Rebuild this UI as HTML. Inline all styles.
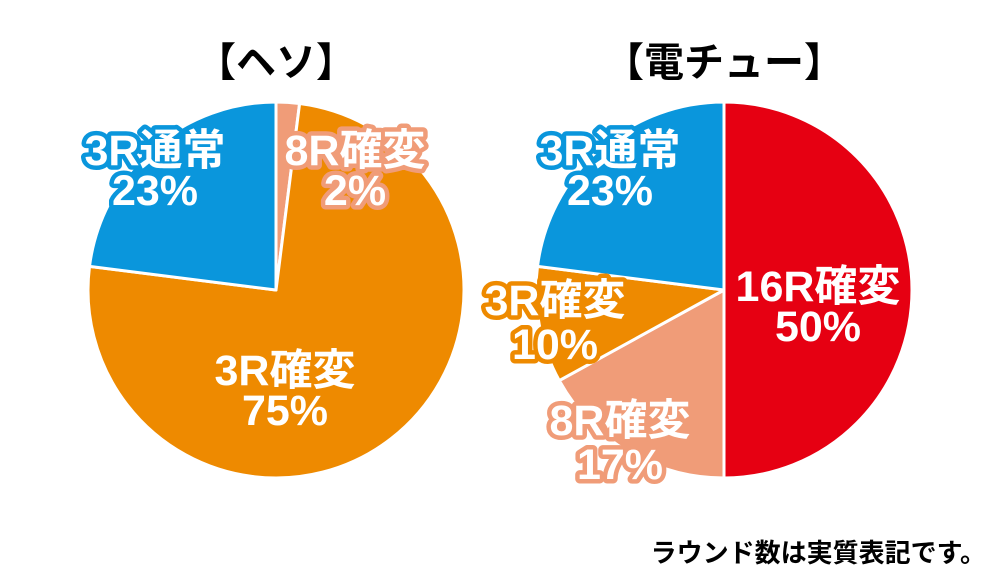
<!DOCTYPE html>
<html><head><meta charset="utf-8"><style>
html,body{margin:0;padding:0;background:#fff;}
svg{display:block;}
text{font-family:"Liberation Sans","Noto Sans CJK JP",sans-serif;font-weight:bold;}
.l{fill:#fff;stroke-width:9;paint-order:stroke;stroke-linejoin:round;font-size:43px;text-anchor:middle;}
.b{stroke:#0a96dc}.o{stroke:#ee8a00}.p{stroke:#f09c78}.r{stroke:#e60012}
</style></head><body>
<svg width="1000" height="577" viewBox="0 0 1000 577">
<rect width="1000" height="577" fill="#fff"/>
<g stroke="#fff" stroke-width="3" stroke-linejoin="round">
<path d="M276,290 L276,102 A188,188 0 0 1 299.6,103.5 Z" fill="#f09c78"/>
<path d="M276,290 L299.6,103.5 A188,188 0 1 1 89.5,266.4 Z" fill="#ee8a00"/>
<path d="M276,290 L89.5,266.4 A188,188 0 0 1 276,102 Z" fill="#0a96dc"/>
<path d="M724,290 L724,102 A188,188 0 0 1 724,478 Z" fill="#e60012"/>
<path d="M724,290 L724,478 A188,188 0 0 1 559.3,380.6 Z" fill="#f09c78"/>
<path d="M724,290 L559.3,380.6 A188,188 0 0 1 537.5,266.4 Z" fill="#ee8a00"/>
<path d="M724,290 L537.5,266.4 A188,188 0 0 1 724,102 Z" fill="#0a96dc"/>
</g>
<text x="276" y="76" font-size="40" text-anchor="middle" fill="#000">【ヘソ】</text>
<text x="724" y="76" font-size="40" text-anchor="middle" fill="#000">【電チュー】</text>
<text class="l b" x="155" y="165">3R通常</text>
<text class="l b" x="155" y="205">23%</text>
<text class="l p" x="355" y="165">8R確変</text>
<text class="l p" x="355" y="205">2%</text>
<text class="l o" x="285" y="385">3R確変</text>
<text class="l o" x="285" y="425">75%</text>
<text class="l b" x="610" y="165">3R通常</text>
<text class="l b" x="610" y="205">23%</text>
<text class="l r" x="818" y="301">16R確変</text>
<text class="l r" x="818" y="341">50%</text>
<text class="l o" x="555" y="315">3R確変</text>
<text class="l o" x="555" y="359">10%</text>
<text class="l p" x="620" y="435">8R確変</text>
<text class="l p" x="620" y="479">17%</text>
<text x="986" y="562" font-size="26" text-anchor="end" fill="#000">ラウンド数は実質表記です。</text>
</svg>
</body></html>
